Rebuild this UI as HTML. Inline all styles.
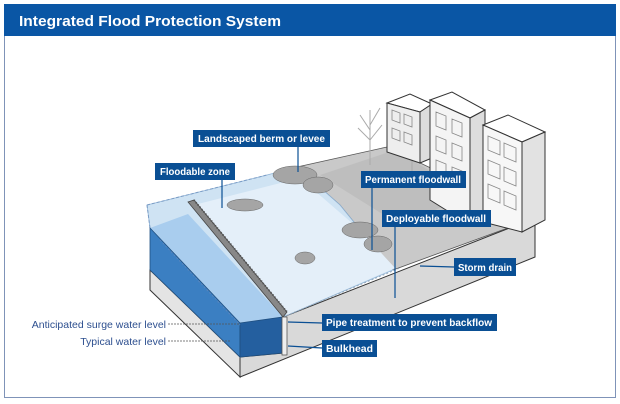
<!DOCTYPE html>
<html><head><meta charset="utf-8"><style>
html,body{margin:0;padding:0;background:#fff;}
svg{display:block;}
text{font-family:"Liberation Sans",sans-serif;}
</style></head><body>
<svg width="620" height="404" viewBox="0 0 620 404" xmlns="http://www.w3.org/2000/svg">
<rect x="4.5" y="4.5" width="611" height="393" fill="#fff" stroke="#7f93b8" stroke-width="1"/>
<rect x="4" y="4" width="612" height="32" fill="#0a56a5"/>
<text x="19" y="26" font-size="15" font-weight="bold" fill="#fff" textLength="262" lengthAdjust="spacingAndGlyphs">Integrated Flood Protection System</text>

<!-- base right face -->
<polygon points="283,317 535,218 535,257 240,377 240,357 283,353" fill="#d9d9d9" stroke="#333" stroke-width="1"/>
<!-- base gray under water -->
<polygon points="150,270 240,357 240,377 150,290" fill="#e4e4e4" stroke="#333" stroke-width="1"/>
<!-- road area -->
<polygon points="297,167 387,147 535,218 393,270 340,205" fill="#c9c9c9" stroke="#555" stroke-width="0.8"/>
<polygon points="320,175 395,150 470,195 400,225" fill="#b8b8b8" opacity="0.6"/>
<!-- floodable light blue top -->
<polygon points="147,205 267,175 297,167 340,205 393,270 283,317 150,228" fill="#cfe3f3" stroke="#8fb3d6" stroke-width="0.8"/>
<polygon points="194,205 300,178 360,230 395,268 287,315" fill="#e4eff9"/>
<line x1="147" y1="205" x2="267" y2="175" stroke="#7a9cc6" stroke-dasharray="3,2"/>
<line x1="147" y1="205" x2="150" y2="228" stroke="#7a9cc6" stroke-dasharray="3,2"/>
<!-- water top -->
<polygon points="150,228 188,214 283,317 240,323" fill="#a9cdee"/>
<!-- water left face -->
<polygon points="150,228 240,323 240,357 150,270" fill="#3b7fc2" stroke="#1f4f80" stroke-width="0.8"/>
<!-- water front face -->
<polygon points="240,323 283,317 283,353 240,357" fill="#245f9f" stroke="#1f4f80" stroke-width="0.8"/>
<line x1="160" y1="240" x2="240" y2="325" stroke="#5a86bd" stroke-dasharray="2,2"/>
<line x1="283" y1="317" x2="400" y2="268" stroke="#9ab" stroke-dasharray="2,2"/>
<!-- seawall railing -->
<polygon points="188,202 194,200 287,312 283,317" fill="#888" stroke="#444" stroke-width="0.8"/>
<line x1="194" y1="200" x2="287" y2="312" stroke="#555" stroke-width="2" stroke-dasharray="1,2"/>
<!-- bulkhead -->
<rect x="282" y="317" width="5" height="38" fill="#eee" stroke="#555" stroke-width="0.8"/>
<!-- vegetation -->
<g fill="#a5a5a5" stroke="#666" stroke-width="0.5">
<ellipse cx="295" cy="175" rx="22" ry="9"/>
<ellipse cx="318" cy="185" rx="15" ry="8"/>
<ellipse cx="245" cy="205" rx="18" ry="6"/>
<ellipse cx="360" cy="230" rx="18" ry="8"/>
<ellipse cx="378" cy="244" rx="14" ry="8"/>
<ellipse cx="305" cy="258" rx="10" ry="6"/>
</g>
<!-- trees -->
<g stroke="#aaa" stroke-width="1" fill="none">
<path d="M370,165 L370,110 M370,130 L360,115 M370,125 L380,108 M370,140 L358,128 M370,140 L382,125"/>
<path d="M412,175 L412,140 M412,150 L402,138 M412,150 L422,140"/>
</g>
<!-- buildings -->
<g stroke="#333" stroke-width="1">
<polygon points="387,103 410,94 432,104 420,112" fill="#fff"/>
<polygon points="387,103 420,112 420,163 387,152" fill="#eee"/>
<polygon points="420,112 432,104 432,158 420,163" fill="#ddd"/>
<polygon points="430,100 452,92 485,110 470,118" fill="#fff"/>
<polygon points="430,100 470,118 470,225 430,200" fill="#f4f4f4"/>
<polygon points="470,118 485,110 485,222 470,225" fill="#ddd"/>
<polygon points="483,125 508,115 545,132 522,142" fill="#fff"/>
<polygon points="483,125 522,142 522,232 483,222" fill="#f7f7f7"/>
<polygon points="522,142 545,132 545,220 522,232" fill="#e2e2e2"/>
</g>
<g fill="none" stroke="#888" stroke-width="0.8">
<path d="M392,110 l8,3 v10 l-8,-3z M404,114 l8,3 v10 l-8,-3z M392,128 l8,3 v10 l-8,-3z M404,132 l8,3 v10 l-8,-3z"/>
<path d="M436,112 l10,4 v14 l-10,-4z M452,119 l10,4 v14 l-10,-4z M436,136 l10,4 v14 l-10,-4z M452,143 l10,4 v14 l-10,-4z M436,160 l10,4 v14 l-10,-4z M452,167 l10,4 v14 l-10,-4z"/>
<path d="M488,136 l12,5 v14 l-12,-5z M504,143 l12,5 v14 l-12,-5z M488,160 l12,5 v14 l-12,-5z M504,167 l12,5 v14 l-12,-5z M488,184 l12,5 v14 l-12,-5z M504,191 l12,5 v14 l-12,-5z"/>
</g>
<!-- leader lines -->
<g stroke="#0a4f94" stroke-width="1.2">
<line x1="298" y1="147" x2="298" y2="172"/>
<line x1="222" y1="180" x2="222" y2="208"/>
<line x1="372" y1="188" x2="372" y2="250"/>
<line x1="395" y1="227" x2="395" y2="298"/>
<line x1="454" y1="267" x2="420" y2="266"/>
<line x1="322" y1="323" x2="288" y2="322"/>
<line x1="322" y1="348" x2="288" y2="346"/>
</g>
<line x1="168" y1="324" x2="240" y2="324" stroke="#555" stroke-width="0.7" stroke-dasharray="2,1"/>
<line x1="168" y1="341" x2="230" y2="341" stroke="#555" stroke-width="0.7" stroke-dasharray="2,1"/>
<!-- label boxes -->
<g font-size="10.5" font-weight="bold" fill="#fff">
<rect x="193" y="130" width="137" height="17" fill="#0a4f94"/><text x="198" y="142" textLength="127" lengthAdjust="spacingAndGlyphs">Landscaped berm or levee</text>
<rect x="155" y="163" width="80" height="17" fill="#0a4f94"/><text x="160" y="175" textLength="70" lengthAdjust="spacingAndGlyphs">Floodable zone</text>
<rect x="361" y="171" width="105" height="17" fill="#0a4f94"/><text x="365" y="183" textLength="96" lengthAdjust="spacingAndGlyphs">Permanent floodwall</text>
<rect x="382" y="210" width="109" height="17" fill="#0a4f94"/><text x="386" y="222" textLength="100" lengthAdjust="spacingAndGlyphs">Deployable floodwall</text>
<rect x="454" y="258" width="62" height="18" fill="#0a4f94"/><text x="458" y="271" textLength="54" lengthAdjust="spacingAndGlyphs">Storm drain</text>
<rect x="322" y="314" width="175" height="17" fill="#0a4f94"/><text x="326" y="326" textLength="166" lengthAdjust="spacingAndGlyphs">Pipe treatment to prevent backflow</text>
<rect x="322" y="340" width="55" height="17" fill="#0a4f94"/><text x="326" y="352" textLength="47" lengthAdjust="spacingAndGlyphs">Bulkhead</text>
</g>
<g font-size="10.5" fill="#2d4f8f" text-anchor="end">
<text x="166" y="328">Anticipated surge water level</text>
<text x="166" y="345">Typical water level</text>
</g>
</svg>
</body></html>
